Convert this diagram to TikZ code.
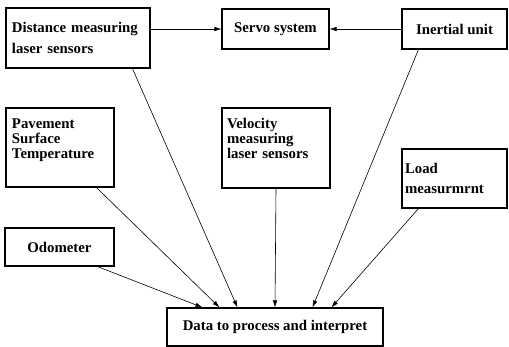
\documentclass[tikz,border=0pt]{standalone}
\usepackage{fontspec}
\setmainfont{Liberation Serif}
\usetikzlibrary{arrows.meta,calc,positioning}

\begin{document}
\begin{tikzpicture}[x=1pt,y=-1pt,
    >={Latex[length=7pt,width=4.5pt]},
    block/.style={draw,line width=1.1pt,font=\bfseries\fontsize{14.8}{15}\selectfont,inner ysep=0pt},
    feed/.style={->,line width=0.6pt}]
    \useasboundingbox (0,0) rectangle (509,347);

    % top row
    \node[block,align=left,text width=132pt,inner xsep=6pt,minimum height=60pt] (dist) at (78,38) {Distance measuring\\[5.6pt]laser sensors};
    \node[block,minimum width=107pt,minimum height=40pt] (servo) at (275.5,29) {Servo system};
    \node[block,minimum width=105pt,minimum height=40pt] (inertial) at (454.5,29) {Inertial unit};

    % middle row
    \node[block,align=left,text width=96pt,inner xsep=6pt,minimum height=79pt,text depth=47pt] (pave) at (60,147.5) {Pavement\\Surface\\Temperature};
    \node[block,align=left,text width=98pt,inner xsep=5pt,minimum height=80pt,text depth=49pt] (velo) at (276,148) {Velocity\\measuring\\laser sensors};
    \node[block,align=left,text width=99pt,inner xsep=3pt,minimum height=59pt] (load) at (454.5,178.5) {Load\\[5pt]measurmrnt};

    % bottom
    \node[block,minimum width=109pt,minimum height=38pt] (odo) at (59.5,247) {Odometer};
    \node[block,minimum width=216pt,minimum height=38pt] (data) at (275,327) {Data to process and interpret};

    % servo inputs
    \draw[feed] (dist.east |- servo.west) -- (servo.west);
    \draw[feed] (inertial.west) -- (servo.east);

    % everything goes to data
    \draw[feed] ($(odo.south west)+(93,0)$) -- ($(data.north west)+(36,0)$);
    \draw[feed] ($(pave.south west)+(91,0)$) -- ($(data.north west)+(53,0)$);
    \draw[feed] ($(dist.south west)+(127,0)$) -- ($(data.north west)+(71,0)$);
    \draw[feed] (velo.south) -- (data.north);
    \draw[feed] ($(inertial.south west)+(17,0)$) -- ($(data.north west)+(146,0)$);
    \draw[feed] ($(load.south west)+(17,0)$) -- ($(data.north west)+(165,0)$);
\end{tikzpicture}
\end{document}
